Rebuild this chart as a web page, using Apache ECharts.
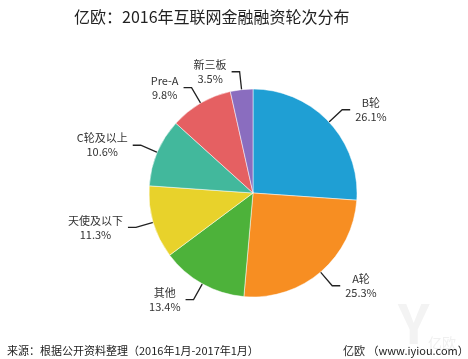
<!DOCTYPE html>
<html>
<head>
<meta charset="utf-8">
<script src="https://cdn.jsdelivr.net/npm/echarts@6/dist/echarts.min.js"></script>
<style>html,body{margin:0;padding:0;background:#fff;}#c{width:468px;height:359px;}</style>
</head>
<body>
<div id="c"></div>
<script>
var categories = ['B轮', 'A轮', '其他', '天使及以下', 'C轮及以上', 'Pre-A', '新三板'];
var values = [26.1, 25.3, 13.4, 11.3, 10.6, 9.8, 3.5];
var colors = ['#1f9fd4', '#f78e22', '#4db23a', '#e8d22b', '#42b89c', '#e56062', '#8a6dbf'];

var chart = echarts.init(document.getElementById('c'));
var font = '"Noto Sans CJK SC", "Noto Sans", sans-serif';
chart.setOption({
  animation: false,
  color: colors,
  title: {
    text: '亿欧：2016年互联网金融融资轮次分布',
    left: 69, top: 4,
    textStyle: { fontSize: 16, fontWeight: 'normal', color: '#222', fontFamily: font }
  },
  graphic: [
    { type: 'text', left: 398, top: 296, z: -1, style: { text: 'Y', fill: '#f3f3f3', font: 'bold 54px ' + font } },
    { type: 'text', left: 428, top: 336, z: -1, style: { text: '亿欧', fill: '#f0f0f0', font: '14px ' + font } },
    { type: 'text', left: 7, top: 345, style: { text: '来源：根据公开资料整理（2016年1月-2017年1月）', fill: '#222', font: '11px ' + font } },
    { type: 'text', left: 343, top: 345, style: { text: '亿欧 （www.iyiou.com）', fill: '#222', font: '11px ' + font } }
  ],
  series: [{
    type: 'pie',
    center: [253, 193],
    radius: 104,
    startAngle: 90,
    clockwise: true,
    avoidLabelOverlap: false,
    itemStyle: { borderColor: '#fff', borderWidth: 0.5 },
    label: {
      formatter: '{a|{b}}\n{a|{c}%}',
      rich: { a: { align: 'center', fontSize: 11, lineHeight: 14, color: '#333', fontFamily: font } }
    },
    labelLine: { length: 18, length2: 8, lineStyle: { color: '#222', width: 1.3 } },
    data: categories.map(function (n, i) { return { name: n, value: values[i] }; })
  }]
});
</script>
</body>
</html>
